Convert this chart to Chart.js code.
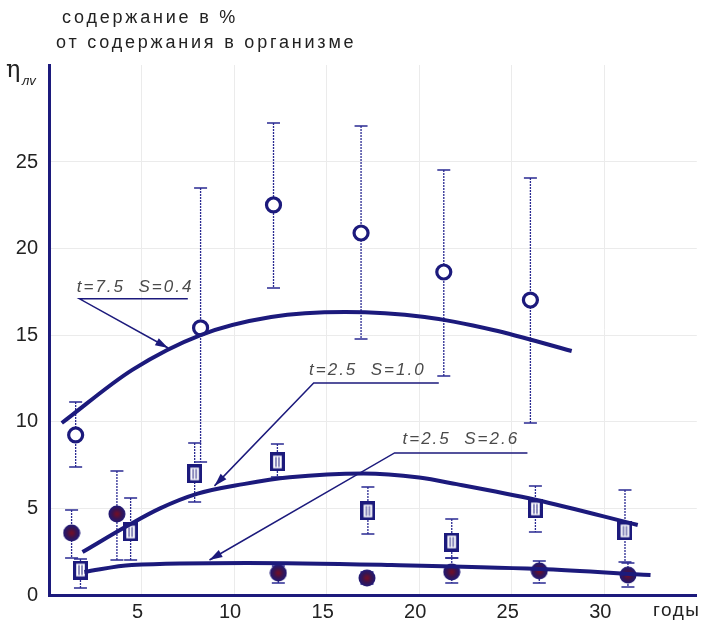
<!DOCTYPE html>
<html>
<head>
<meta charset="utf-8">
<script src="https://cdn.jsdelivr.net/npm/chart.js@4"></script>
<style>
  body { margin: 0; background: #fff; }
  canvas { display: block; }
</style>
</head>
<body>
<canvas id="myChart" width="707" height="634"></canvas>
<script>
// tick labels
const xTicks = [5, 10, 15, 20, 25, 30];
const yTicks = [0, 5, 10, 15, 20, 25];

// open circles
const openYears = [1.44, 8.19, 12.13, 16.86, 21.33, 26.01];
const openValues = [9.24, 15.42, 22.52, 20.9, 18.65, 17.03];
const openLow = [7.39, 7.68, 17.73, 14.78, 12.64, 9.93];
const openHigh = [11.14, 23.5, 27.25, 27.08, 24.54, 24.08];

// squares
const squareYears = [1.7, 4.41, 7.87, 12.34, 17.23, 21.76, 26.28, 31.12];
const squareValues = [1.44, 3.64, 6.99, 7.68, 4.85, 3.06, 4.97, 3.7];
const squareLow = [0.4, 2.02, 5.37, 6.81, 3.52, 2.14, 3.64, 1.91];
const squareHigh = [2.08, 5.6, 8.78, 8.72, 6.24, 4.39, 6.29, 6.06];

// filled circles
const dotYears = [1.22, 3.67, 12.39, 17.18, 21.76, 26.49, 31.28];
const dotValues = [3.58, 4.68, 1.27, 0.98, 1.33, 1.39, 1.15];
const dotLow = [2.14, 2.02, 0.69, 0.64, 0.69, 0.69, 0.46];
const dotHigh = [4.91, 7.16, 1.67, 1.33, 2.14, 1.96, 1.85];

// model curves
const curve1Years = [0.69, 4.5, 8.19, 12, 16, 20.3, 24, 28.24];
const curve1Values = [9.93, 13.0, 15.01, 16.05, 16.34, 16.05, 15.3, 14.09];
const curve2Years = [1.81, 4.31, 6.0, 8.03, 10.5, 13, 17, 20, 22.02, 26.28, 31.81];
const curve2Values = [2.48, 4.04, 5.0, 5.85, 6.4, 6.8, 7.02, 6.78, 6.4, 5.5, 4.04];
const curve3Years = [1.91, 4.47, 10.69, 18.51, 26.49, 32.5];
const curve3Values = [1.33, 1.73, 1.85, 1.73, 1.5, 1.15];

const navy = '#1c1a7c';
const ctx = document.getElementById('myChart').getContext('2d');

function toPoints(xs, ys) {
  return xs.map((x, i) => ({ x: x, y: ys[i] }));
}

// marker images
function squareMarker() {
  const c = document.createElement('canvas');
  c.width = 15; c.height = 19;
  const g = c.getContext('2d');
  g.fillStyle = '#fff';
  g.fillRect(0, 0, 15, 19);
  g.strokeStyle = navy;
  g.lineWidth = 3.2;
  g.strokeRect(1.6, 1.6, 11.8, 15.8);
  g.lineWidth = 1;
  g.beginPath();
  g.moveTo(6, 4.5); g.lineTo(6, 14.5);
  g.moveTo(9, 4.5); g.lineTo(9, 14.5);
  g.stroke();
  return c;
}

function dotMarker() {
  const c = document.createElement('canvas');
  c.width = 18; c.height = 18;
  const g = c.getContext('2d');
  const grad = g.createRadialGradient(9, 9, 1, 9, 9, 9);
  grad.addColorStop(0, '#6b0f2c');
  grad.addColorStop(0.45, '#3a1450');
  grad.addColorStop(1, '#1c1a7c');
  g.fillStyle = grad;
  g.beginPath();
  g.arc(9, 9, 8.5, 0, Math.PI * 2);
  g.fill();
  return c;
}

const errorSets = [
  { years: openYears, low: openLow, high: openHigh },
  { years: squareYears, low: squareLow, high: squareHigh },
  { years: dotYears, low: dotLow, high: dotHigh }
];

const errorBars = {
  id: 'errorBars',
  beforeDatasetsDraw(chart) {
    const c = chart.ctx;
    const xs = chart.scales.x;
    const ys = chart.scales.y;
    c.save();
    c.strokeStyle = '#2a2a92';
    errorSets.forEach(set => {
      set.years.forEach((yr, i) => {
        const px = xs.getPixelForValue(yr);
        const top = ys.getPixelForValue(set.high[i]);
        const bot = ys.getPixelForValue(set.low[i]);
        c.lineWidth = 1.3;
        c.setLineDash([2, 1]);
        c.beginPath();
        c.moveTo(px, top); c.lineTo(px, bot);
        c.stroke();
        c.setLineDash([]);
        c.lineWidth = 1.5;
        c.beginPath();
        c.moveTo(px - 6.5, top); c.lineTo(px + 6.5, top);
        c.moveTo(px - 6.5, bot); c.lineTo(px + 6.5, bot);
        c.stroke();
      });
    });
    c.restore();
  }
};

// labels with leader arrows, in data units
const notes = [
  { text: 't=7.5  S=0.4', tx: 1.5, ty: 17.75, ux1: 1.65, ux2: 7.5, uy: 17.1, ax: 6.44, ay: 14.26 },
  { text: 't=2.5  S=1.0', tx: 14.05, ty: 13.0, ux1: 14.3, ux2: 21.06, uy: 12.24, ax: 8.94, ay: 6.3 },
  { text: 't=2.5  S=2.6', tx: 19.1, ty: 9.0, ux1: 18.67, ux2: 25.85, uy: 8.2, ax: 8.67, ay: 2.02 }
];

const annotations = {
  id: 'annotations',
  afterDatasetsDraw(chart) {
    const c = chart.ctx;
    const xs = chart.scales.x;
    const ys = chart.scales.y;
    c.save();
    notes.forEach(n => {
      c.font = 'italic 17px "Liberation Sans", Arial, sans-serif';
      c.letterSpacing = '2px';
      c.fillStyle = '#4a4a4a';
      c.textBaseline = 'middle';
      c.textAlign = 'left';
      c.fillText(n.text, xs.getPixelForValue(n.tx), ys.getPixelForValue(n.ty));

      const x1 = xs.getPixelForValue(n.ux1);
      const x2 = xs.getPixelForValue(n.ux2);
      const uy = ys.getPixelForValue(n.uy);
      const ax = xs.getPixelForValue(n.ax);
      const ay = ys.getPixelForValue(n.ay);
      c.strokeStyle = navy;
      c.fillStyle = navy;
      c.lineWidth = 1.5;
      c.beginPath();
      c.moveTo(x2, uy); c.lineTo(x1, uy); c.lineTo(ax, ay);
      c.stroke();
      const ang = Math.atan2(ay - uy, ax - x1);
      const len = 13, half = 4;
      c.beginPath();
      c.moveTo(ax, ay);
      c.lineTo(ax - len * Math.cos(ang) + half * Math.sin(ang), ay - len * Math.sin(ang) - half * Math.cos(ang));
      c.lineTo(ax - len * Math.cos(ang) - half * Math.sin(ang), ay - len * Math.sin(ang) + half * Math.cos(ang));
      c.closePath();
      c.fill();
    });
    c.restore();
  }
};

const titles = {
  id: 'titles',
  afterDraw(chart) {
    const c = chart.ctx;
    c.save();
    c.fillStyle = '#222';
    c.textBaseline = 'middle';
    c.textAlign = 'left';
    c.font = '18px "Liberation Sans", Arial, sans-serif';
    c.letterSpacing = '2.8px';
    c.fillText('содержание в %', 62, 18);
    c.fillText('от содержания в организме', 56, 43);
    c.font = '19px "Liberation Sans", Arial, sans-serif';
    c.letterSpacing = '1.5px';
    c.fillText('годы', 653, 611);
    c.letterSpacing = '0px';
    c.font = '24px "DejaVu Serif", serif';
    c.fillText('η', 6, 71);
    c.font = 'italic 13px "Liberation Sans", Arial, sans-serif';
    c.fillText('лv', 22, 81);
    c.restore();
  }
};

const lineStyle = {
  type: 'line',
  showLine: true,
  borderColor: navy,
  borderWidth: 4,
  pointRadius: 0,
  cubicInterpolationMode: 'monotone',
  fill: false
};

new Chart(ctx, {
  type: 'scatter',
  data: {
    datasets: [
      Object.assign({ data: toPoints(curve1Years, curve1Values) }, lineStyle),
      Object.assign({ data: toPoints(curve2Years, curve2Values) }, lineStyle),
      Object.assign({ data: toPoints(curve3Years, curve3Values) }, lineStyle),
      {
        data: toPoints(openYears, openValues),
        pointStyle: 'circle',
        pointRadius: 7,
        pointBorderWidth: 3.2,
        pointBorderColor: navy,
        pointBackgroundColor: '#fff',
        clip: false
      },
      {
        data: toPoints(squareYears, squareValues),
        pointStyle: squareMarker(),
        clip: false
      },
      {
        data: toPoints(dotYears, dotValues),
        pointStyle: dotMarker(),
        clip: false
      }
    ]
  },
  options: {
    responsive: false,
    animation: false,
    events: [],
    layout: { padding: { top: 65, left: 0, right: 0, bottom: 0 } },
    plugins: { legend: { display: false }, tooltip: { enabled: false } },
    scales: {
      x: {
        type: 'linear',
        min: 0,
        max: 35,
        afterBuildTicks: scale => { scale.ticks = xTicks.map(v => ({ value: v })); },
        afterFit: scale => { scale.height = 39; },
        grid: { color: '#ebebeb', drawTicks: false },
        border: { color: navy, width: 3 },
        ticks: {
          padding: 5,
          labelOffset: -4,
          color: '#222',
          font: { family: '"Liberation Sans", Arial, sans-serif', size: 20 }
        }
      },
      y: {
        type: 'linear',
        min: 0,
        max: 30.6,
        afterBuildTicks: scale => { scale.ticks = yTicks.map(v => ({ value: v })); },
        afterFit: scale => { scale.width = 49; },
        grid: { color: '#ebebeb', drawTicks: false },
        border: { color: navy, width: 3 },
        ticks: {
          padding: 11,
          color: '#222',
          font: { family: '"Liberation Sans", Arial, sans-serif', size: 20 }
        }
      }
    }
  },
  plugins: [errorBars, annotations, titles]
});
</script>
</body>
</html>
